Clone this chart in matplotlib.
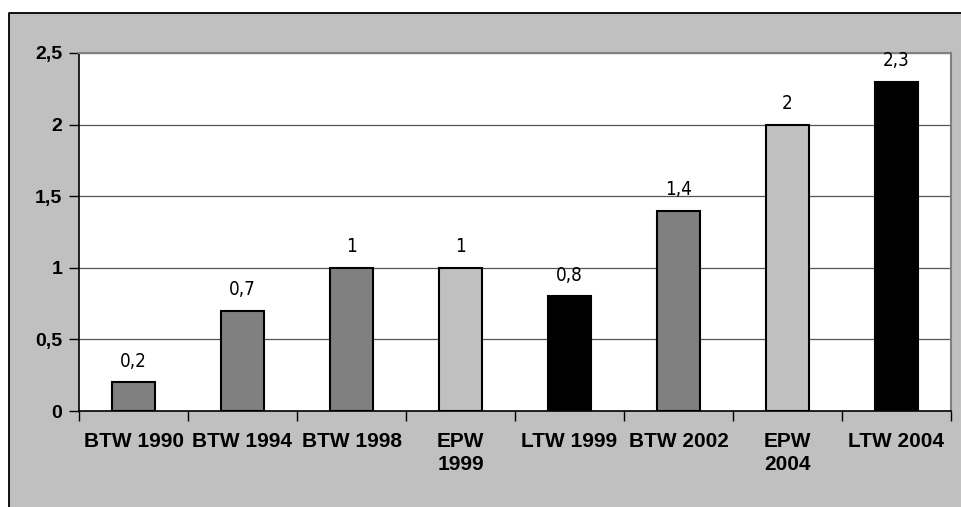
import matplotlib
matplotlib.use("Agg")
import matplotlib.pyplot as plt
from matplotlib import font_manager
from matplotlib.patches import Rectangle
from matplotlib.lines import Line2D

# dados
categorias = ["BTW 1990", "BTW 1994", "BTW 1998", "EPW\n1999", "LTW 1999",
              "BTW 2002", "EPW\n2004", "LTW 2004"]
valores = [0.2, 0.7, 1.0, 1.0, 0.8, 1.4, 2.0, 2.3]
rotulos = ["0,2", "0,7", "1", "1", "0,8", "1,4", "2", "2,3"]
cores = ["#808080", "#808080", "#808080", "#C0C0C0", "#000000",
         "#808080", "#C0C0C0", "#000000"]
y_ticks = [0, 0.5, 1, 1.5, 2, 2.5]
y_rotulos = ["0", "0,5", "1", "1,5", "2", "2,5"]

# procura uma fonte estreita para os rotulos de valor
fonte_valor = font_manager.FontProperties(family="Liberation Sans", size=13)
for fam in ["Liberation Sans Narrow", "Liberation Sans", "DejaVu Sans", "Roboto"]:
    fp = font_manager.FontProperties(family=fam, stretch="condensed", size=13.5)
    try:
        arq = font_manager.findfont(fp, fallback_to_default=False)
    except ValueError:
        continue
    if "narrow" in arq.lower() or "condensed" in arq.lower():
        fonte_valor = font_manager.FontProperties(fname=arq, size=13.5)
        break

W, H = 962, 507
fig = plt.figure(figsize=(W / 100, H / 100), dpi=100)
fig.patch.set_facecolor("white")

# moldura cinza externa (so borda de cima e da esquerda aparecem)
topo = (H - 12.5) / H
esq = 8.5 / W
fig.add_artist(Rectangle((esq, 0), 1 - esq, topo, transform=fig.transFigure,
                         facecolor="#C0C0C0", edgecolor="none", zorder=0))
fig.add_artist(Line2D([esq, esq, 1], [0, topo, topo], transform=fig.transFigure,
                      color="black", linewidth=1.3, zorder=0.5))

ax = fig.add_axes([79 / W, (H - 411) / H, 872 / W, 358 / H])
ax.set_zorder(2)
ax.set_facecolor("white")

x = list(range(len(categorias)))
ax.bar(x, valores, width=0.4, color=cores, edgecolor="black", linewidth=1.5, zorder=3)

for xi, v, r in zip(x, valores, rotulos):
    ax.annotate(r, (xi, v), xytext=(0, 8.5), textcoords="offset points",
                ha="center", va="bottom", fontproperties=fonte_valor)

ax.set_xlim(-0.5, len(categorias) - 0.5)
ax.set_ylim(0, 2.5)
ax.set_yticks(y_ticks)
ax.set_yticklabels(y_rotulos, fontsize=14, fontweight="bold", family="Liberation Sans")
ax.set_xticks([i - 0.5 for i in range(len(categorias) + 1)])
ax.set_xticklabels([])
ax.set_xticks(x, minor=True)
ax.set_xticklabels(categorias, minor=True, fontsize=15, fontweight="bold",
                   family="Liberation Sans", linespacing=1.25)
ax.tick_params(axis="x", which="minor", length=0, pad=15)
ax.tick_params(axis="x", which="major", direction="out", length=7, width=1, color="black")
ax.tick_params(axis="y", direction="out", length=7, width=1, pad=5)

ax.yaxis.grid(True, color="#555555", linewidth=0.9, zorder=0)
ax.set_axisbelow(True)

ax.spines["left"].set_color("black")
ax.spines["bottom"].set_color("black")
ax.spines["left"].set_linewidth(1.2)
ax.spines["bottom"].set_linewidth(1.2)
ax.spines["top"].set_color("#808080")
ax.spines["right"].set_color("#808080")
ax.spines["top"].set_linewidth(1.5)
ax.spines["right"].set_linewidth(1.5)

fig.savefig("out.png", dpi=100)
